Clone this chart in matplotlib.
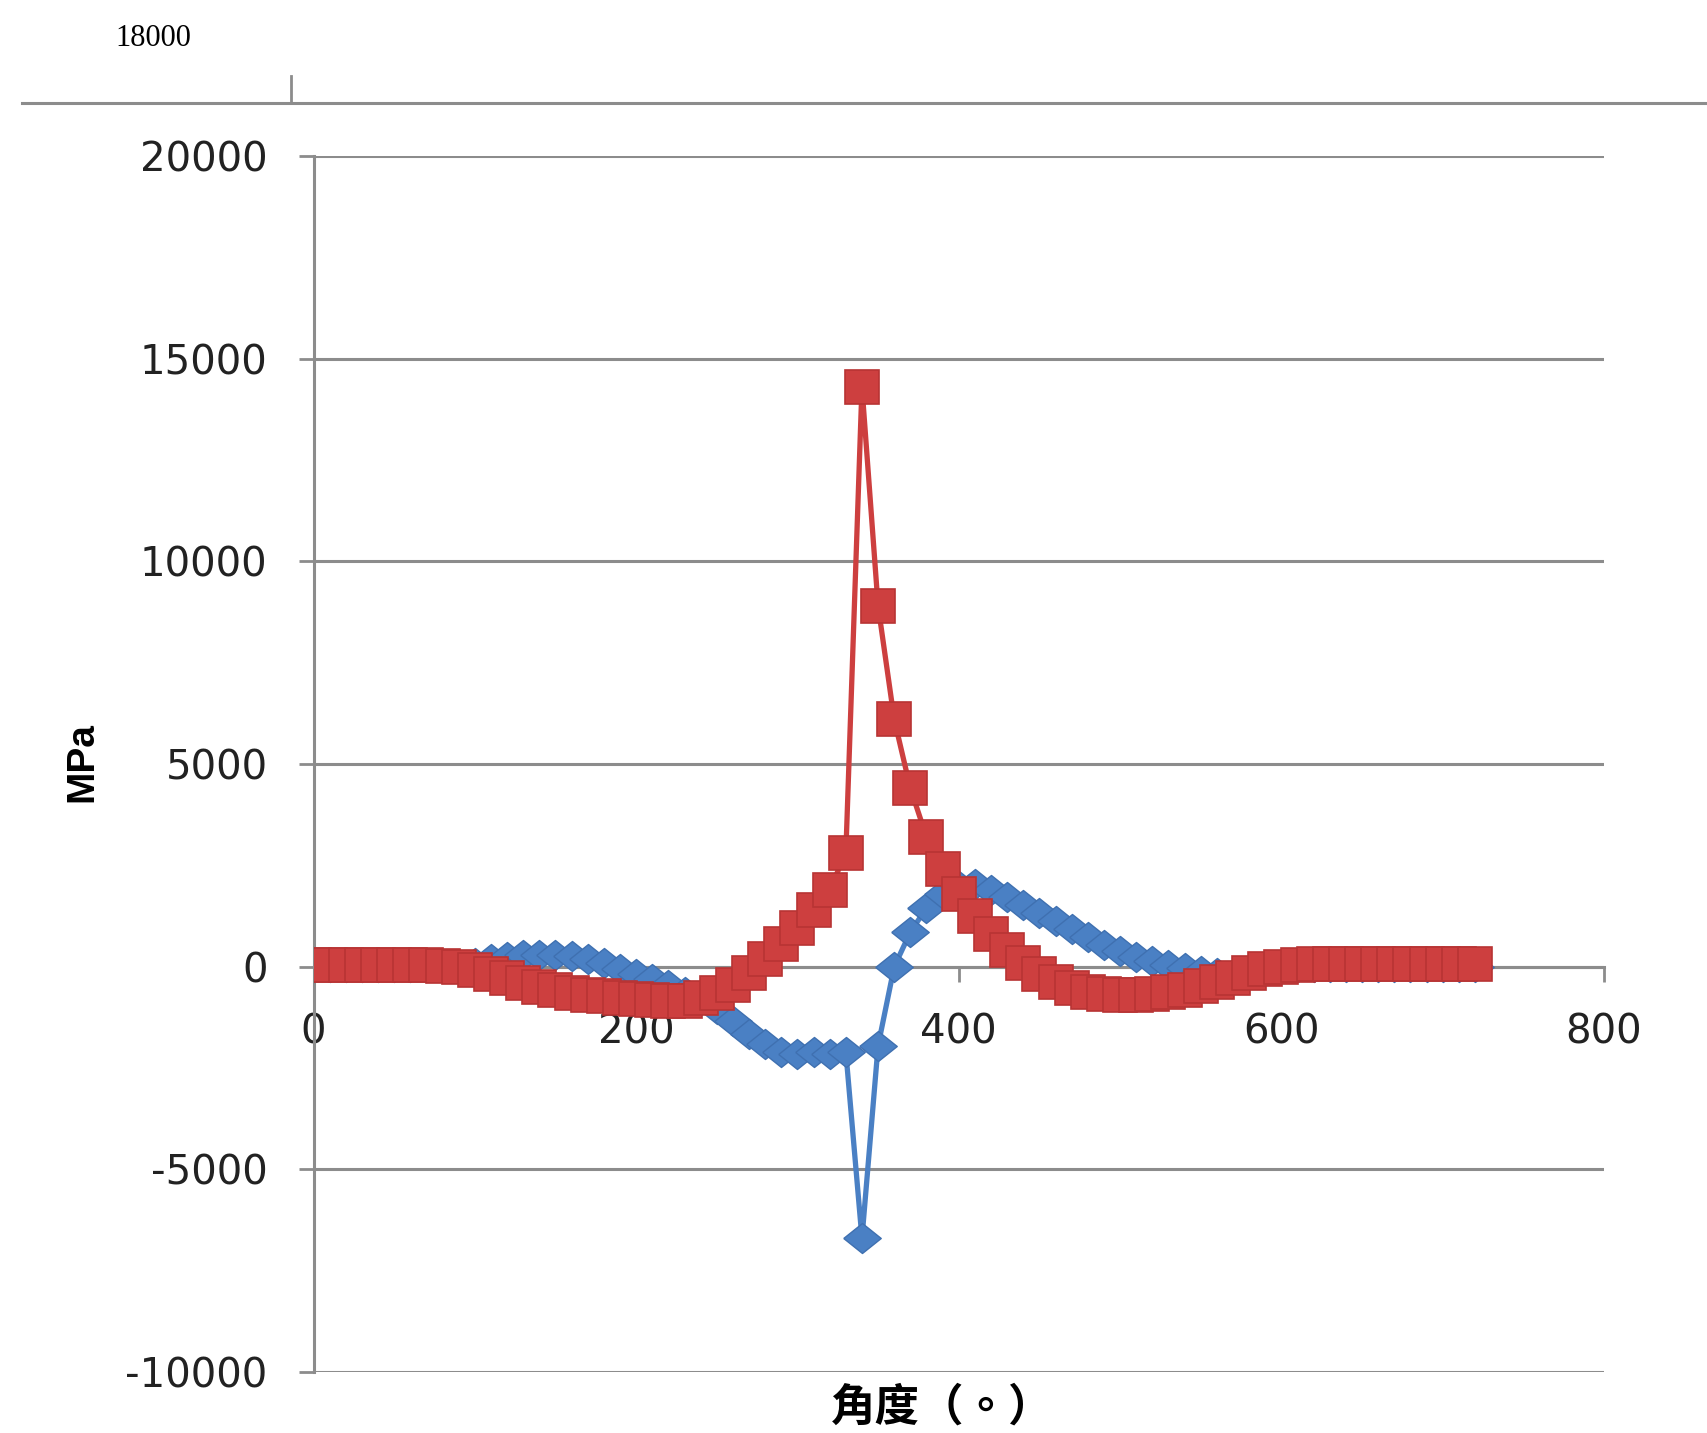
import matplotlib.pyplot as plt
from matplotlib.lines import Line2D

plt.rcParams['axes.unicode_minus'] = False

# angulo (grados) y tensiones (MPa)
angulo = [0, 10, 20, 30, 40, 50, 60, 70, 80, 90,
          100, 110, 120, 130, 140, 150, 160, 170, 180, 190,
          200, 210, 220, 230, 240, 250, 260, 270, 280, 290,
          300, 310, 320, 330, 340, 350, 360, 370, 380, 390,
          400, 410, 420, 430, 440, 450, 460, 470, 480, 490,
          500, 510, 520, 530, 540, 550, 560, 570, 580, 590,
          600, 610, 620, 630, 640, 650, 660, 670, 680, 690,
          700, 710, 720]

azul = [0, 0, 0, 0, 0, 0, 0, 0, 0, 40,
        100, 180, 240, 280, 300, 290, 260, 200, 100, -60,
        -180, -300, -450, -620, -820, -1050, -1350, -1650, -1900, -2100,
        -2150, -2100, -2150, -2100, -6700, -1950, 0, 850, 1450, 1800,
        2000, 2050, 1900, 1720, 1530, 1330, 1130, 930, 730, 540,
        380, 250, 140, 50, -30, -100, -160, -170, -120, -60,
        -20, 0, 0, 0, 0, 0, 0, 0, 0, 0,
        0, 0, 0]

rojo = [30, 30, 30, 30, 30, 30, 30, 30, 20, 0,
        -80, -180, -280, -400, -500, -580, -640, -690, -730, -770,
        -800, -830, -850, -850, -780, -650, -450, -150, 200, 550,
        950, 1400, 1900, 2800, 14300, 8900, 6100, 4400, 3200, 2400,
        1800, 1250, 800, 400, 80, -180, -380, -520, -620, -670,
        -690, -690, -670, -630, -570, -480, -380, -270, -160, -60,
        0, 40, 60, 60, 60, 60, 60, 60, 60, 60,
        60, 60, 60]

yticks = [-10000, -5000, 0, 5000, 10000, 15000, 20000]
xticks = [0, 200, 400, 600, 800]

gris = '#8c8c8c'
W, H = 1707, 1433

fig = plt.figure(figsize=(W / 100, H / 100), dpi=100)
ax = fig.add_axes([313.5 / W, 1 - 1372 / H, (1604 - 313.5) / W, (1372 - 156) / H])

rombo = [(-1, 0), (0, 0.8), (1, 0), (0, -0.8), (-1, 0)]
ax.plot(angulo, azul, color='#4A80C4', lw=3.8, marker=rombo, ms=27,
        mfc='#4A80C4', mec='#3F70B0', mew=1, zorder=3)
ax.plot(angulo, rojo, color='#CD3F3F', lw=3.8, marker='s', ms=25,
        mfc='#CD3F3F', mec='#B83434', mew=1.2, zorder=4)

ax.set_xlim(0, 800)
ax.set_ylim(-10000, 20000)
ax.set_xticks(xticks)
ax.set_yticks(yticks)
ax.yaxis.grid(True, color=gris, lw=2.2)
ax.set_axisbelow(True)

for s in ['top', 'right']:
    ax.spines[s].set_visible(False)
ax.spines['bottom'].set_position(('data', 0))
ax.spines['bottom'].set_color(gris)
ax.spines['bottom'].set_linewidth(2.2)
ax.spines['left'].set_color(gris)
ax.spines['left'].set_linewidth(2.2)

ax.tick_params(axis='x', direction='out', length=11, width=2, color=gris,
               pad=22, labelsize=29, labelcolor='#222222')
ax.tick_params(axis='y', direction='out', length=11, width=2, color=gris,
               pad=22, labelsize=29, labelcolor='#222222')
for lab in ax.get_xticklabels() + ax.get_yticklabels():
    lab.set_family('DejaVu Sans')

fig.text(82 / W, 1 - 762 / H, 'MPa', rotation=90, ha='center', va='center',
         fontsize=28, fontweight='bold', family='Liberation Sans')
fig.text(942 / W, 1 - 1408 / H, '角度（。）', ha='center', va='center',
         fontsize=32, fontweight='bold', family=['Noto Sans CJK TC', 'DejaVu Sans'])

# resto del grafico de arriba (recortado)
fig.text(153 / W, 1 - 38 / H, '18000', ha='center', va='center',
         fontsize=22, family='Liberation Serif')
fig.add_artist(Line2D([22 / W, 1], [1 - 103 / H] * 2, transform=fig.transFigure,
                      color=gris, lw=2.2))
fig.add_artist(Line2D([291 / W] * 2, [1 - 76 / H, 1 - 103 / H], transform=fig.transFigure,
                      color=gris, lw=2))

plt.savefig('out.png', dpi=100)
plt.close()
